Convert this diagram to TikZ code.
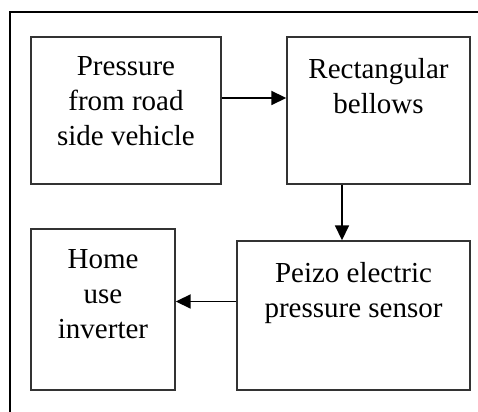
\documentclass[tikz,border=0pt]{standalone}
\usepackage{fontspec}
\setmainfont{Liberation Serif}
\usetikzlibrary{arrows.meta}

\begin{document}
\begin{tikzpicture}[
  x=0.5pt,
  y=0.5pt,
  box/.style={draw=black!80,line width=0.7pt,inner sep=0pt},
  lab/.style={anchor=north,align=center,inner sep=0pt,
    font=\fontsize{14.5pt}{17.5pt}\selectfont},
  flow/.style={line width=0.9pt,-{Triangle[length=7.5pt,width=7pt]}}
]
  \useasboundingbox (0,0) rectangle (478,412);

  % Outer frame, only its top and left sides show.
  \draw[line width=1pt] (478,400) -- (10,400) -- (10,0);

  % Blocks.
  \node[box,minimum width=95pt,minimum height=73.5pt] (press) at (126,301.5) {};
  \node[box,minimum width=91.5pt,minimum height=73.5pt] (bell) at (378.5,301.5) {};
  \node[box,minimum width=116.5pt,minimum height=74.5pt] (peizo) at (353.5,96.5) {};
  \node[box,minimum width=72pt,minimum height=80.5pt] (home) at (103,102.5) {};

  % Block texts.
  \node[lab] (presstxt) at ([yshift=-10pt]press.north)
    {Pressure\\from road\\side vehicle};
  \node[lab] (belltxt) at ([yshift=-11pt]bell.north)
    {Rectangular\\bellows};
  \node[lab] (peizotxt) at ([yshift=-11pt]peizo.north)
    {Peizo electric\\pressure sensor};
  \node[lab] (hometxt) at ([yshift=-10.5pt]home.north)
    {Home\\use\\inverter};

  % Flow arrows.
  \draw[flow] (press.east |- 0,314) -- (bell.west |- 0,314);
  \draw[flow] (bell.south -| 342,0) -- (peizo.north -| 342,0);
  \draw[flow] (peizo.west |- 0,110.5) -- (home.east |- 0,110.5);
\end{tikzpicture}
\end{document}
